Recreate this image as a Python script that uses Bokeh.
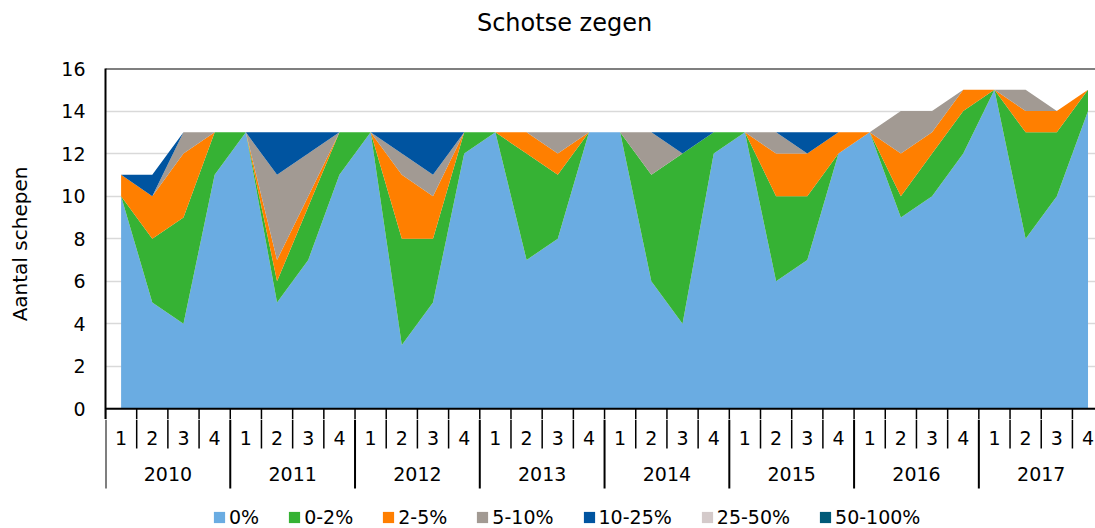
from bokeh.plotting import figure
from bokeh.layouts import column
from bokeh.models import Range1d, FixedTicker, ColumnDataSource, Legend, LegendItem, Span
from bokeh.core.properties import value
from bokeh.embed import file_html
from bokeh.resources import INLINE

# ---------------- data ----------------
title = "Schotse zegen"
y_label = "Aantal schepen"
years = ["2010", "2011", "2012", "2013", "2014", "2015", "2016", "2017"]
quarters = ["1", "2", "3", "4"]
series = ["0%", "0-2%", "2-5%", "5-10%", "10-25%", "25-50%", "50-100%"]
colors = ["#6AACE2", "#36B234", "#FF7F00", "#A29A93", "#0054A0", "#D4CACA", "#005A78"]

s_0 = [10, 5, 4, 11, 13, 5, 7, 11, 13, 3, 5, 12, 13, 7, 8, 13,
       13, 6, 4, 12, 13, 6, 7, 12, 13, 9, 10, 12, 15, 8, 10, 14]
s_0_2 = [0, 3, 5, 2, 0, 1, 2.5, 2, 0, 5, 3, 1, 0, 5, 3, 0,
         0, 5, 8, 1, 0, 4, 3, 0, 0, 1, 2, 2, 0, 5, 3, 1]
s_2_5 = [1, 2, 3, 0, 0, 1, 0.5, 0, 0, 3, 2, 0, 0, 1, 1, 0,
         0, 0, 0, 0, 0, 2, 2, 1, 0, 2, 1, 1, 0, 1, 1, 0]
s_5_10 = [0, 0, 1, 0, 0, 4, 2, 0, 0, 1, 1, 0, 0, 0, 1, 0,
          0, 2, 0, 0, 0, 1, 0, 0, 0, 2, 1, 0, 0, 1, 0, 0]
s_10_25 = [0, 1, 0, 0, 0, 2, 1, 0, 0, 1, 2, 0, 0, 0, 0, 0,
           0, 0, 1, 0, 0, 0, 1, 0, 0, 0, 0, 0, 0, 0, 0, 0]
s_25_50 = [0] * 32
s_50_100 = [0] * 32

y_ticks = [0, 2, 4, 6, 8, 10, 12, 14, 16]

FONT = "DejaVu Sans"

nq = len(quarters)
n_cat = len(years) * nq
x_pos = list(range(1, n_cat + 1))

src = ColumnDataSource(dict(x=x_pos))
for name, vals in zip(series, [s_0, s_0_2, s_2_5, s_5_10, s_10_25, s_25_50, s_50_100]):
    src.data[name] = vals

# ---------------- layout constants ----------------
W = 1095
LEFT = 105
X_END = 32.24          # the reference is cropped on the right
xr = Range1d(0.5, X_END)
cw = (W - LEFT) / (X_END - 0.5)
Y_LOW = -0.5           # frame reaches a little below zero (start of the category axis)

def common(p):
    p.grid.visible = False
    p.outline_line_color = None
    p.background_fill_alpha = 0
    p.border_fill_alpha = 0

# ---------------- title strip ----------------
HT = 56
pT = figure(width=W, height=HT, x_range=xr, y_range=Range1d(HT, 0),
            output_backend="svg", toolbar_location=None,
            min_border_left=LEFT, min_border_right=0, min_border_top=0, min_border_bottom=0,
            x_axis_location=None, y_axis_location=None)
common(pT)
pT.text(x=[0.5 + (564 - LEFT) / cw], y=[22], text=[title], text_align="center",
        text_baseline="middle", text_font=value(FONT), text_font_size="24px",
        text_color="#000000")

# ---------------- main plot ----------------
HA = 363
pA = figure(width=W, height=HA, x_range=xr, y_range=Range1d(Y_LOW, 16),
            output_backend="svg", toolbar_location=None,
            min_border_left=LEFT, min_border_right=0, min_border_top=12, min_border_bottom=0,
            x_axis_location=None)

yax = pA.yaxis[0]
yax.ticker = FixedTicker(ticks=y_ticks)
yax.axis_label = y_label
yax.axis_label_text_font = FONT
yax.axis_label_text_font_size = "20px"
yax.axis_label_text_font_style = "normal"
yax.axis_label_text_color = "#000000"
yax.axis_label_standoff = 26
yax.major_label_text_font = FONT
yax.major_label_text_font_size = "19px"
yax.major_label_text_color = "#000000"
yax.major_label_standoff = 20
yax.major_tick_out = 0
yax.major_tick_in = 0
yax.minor_tick_out = 0
yax.minor_tick_in = 0
yax.axis_line_color = "#000000"
yax.axis_line_width = 2

pA.xgrid.visible = False
pA.ygrid.grid_line_color = "#D9D9D9"
pA.ygrid.grid_line_width = 1.5
pA.outline_line_color = None

pA.varea_stack(stackers=series, x="x", color=colors, source=src)

pA.add_layout(Span(location=16, dimension="width", line_color="#000000", line_width=2))

# category axis: base line and top part of the separators
q_bounds = [k + 0.5 for k in range(n_cat + 1)]
pA.segment(x0=q_bounds, x1=q_bounds, y0=[0] * len(q_bounds), y1=[Y_LOW] * len(q_bounds),
           line_color="#000000", line_width=1.5)
pA.segment(x0=[0.5], x1=[X_END], y0=[0], y1=[0], line_color="#000000", line_width=2)

# ---------------- category axis (rest) + legend ----------------
HB = 528 - HT - HA
pB = figure(width=W, height=HB, x_range=xr, y_range=Range1d(HB, 0),
            output_backend="svg", toolbar_location=None,
            min_border_left=LEFT, min_border_right=0, min_border_top=0, min_border_bottom=0,
            x_axis_location=None, y_axis_location=None)
common(pB)

year_b = [b for i, b in enumerate(q_bounds) if i % nq == 0]
quarter_b = [b for i, b in enumerate(q_bounds) if i % nq != 0]
pB.segment(x0=quarter_b, x1=quarter_b, y0=[0] * len(quarter_b), y1=[29] * len(quarter_b),
           line_color="#000000", line_width=1.5)
pB.segment(x0=year_b, x1=year_b, y0=[0] * len(year_b), y1=[69] * len(year_b),
           line_color="#000000", line_width=2)

q_labels = [q for _ in years for q in quarters]
pB.text(x=x_pos, y=[18] * n_cat, text=q_labels, text_align="center", text_baseline="middle",
        text_font=value(FONT), text_font_size="19px", text_color="#000000")
year_x = [nq * j + (nq + 1) / 2 for j in range(len(years))]
pB.text(x=year_x, y=[54] * len(years), text=years, text_align="center", text_baseline="middle",
        text_font=value(FONT), text_font_size="19px", text_color="#000000")

items = []
for name, c in zip(series, colors):
    r = pB.varea(x=[0, 0], y1=[0, 0], y2=[0, 0], fill_color=c, fill_alpha=1)
    items.append(LegendItem(label=name, renderers=[r]))
legend = Legend(items=items, orientation="horizontal", location=(107, 0),
                glyph_width=14, glyph_height=14, label_standoff=3, spacing=28,
                padding=0, margin=0, border_line_color=None, background_fill_alpha=0,
                label_text_font=FONT, label_text_font_size="19px", label_text_color="#000000")
pB.add_layout(legend)

layout = column(pT, pA, pB, spacing=0)
open("out.html", "w").write(file_html(layout, INLINE))
